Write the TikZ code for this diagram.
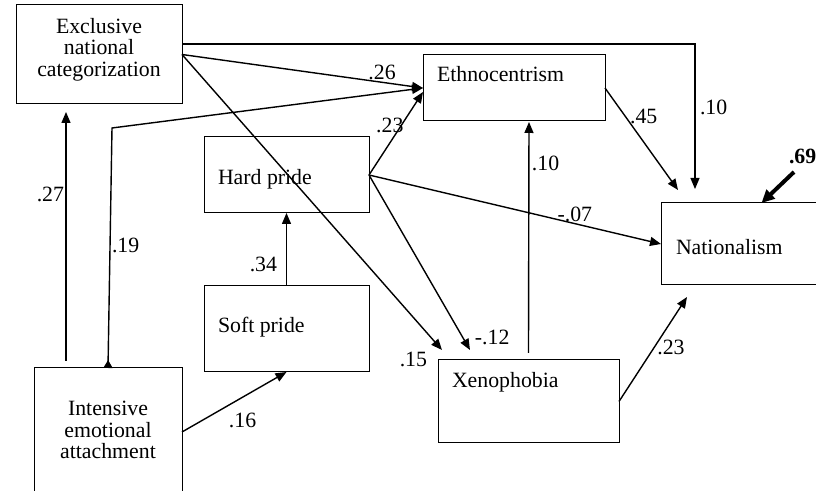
\documentclass[tikz,border=0pt]{standalone}
\usepackage{fontspec}
\setmainfont{Liberation Serif}
\usetikzlibrary{arrows.meta,positioning}

\begin{document}
\begin{tikzpicture}[x=0.5pt,y=-0.5pt]
  \tikzstyle{every node}=[inner sep=0pt, outer sep=0pt, font=\fontsize{10.9}{10.75}\selectfont]
  \tikzstyle{box}=[draw, rectangle, line width=0.5pt]
  \tikzstyle{lab}=[inner sep=1pt]

  \useasboundingbox (0,0) rectangle (816,491);

  % Boxes (position, size)
  \node[box, minimum width=83pt, minimum height=49.5pt] (Excl) at (99,54.5) {};
  \node[box, minimum width=91pt, minimum height=33pt] (Ethno) at (514,88) {};
  \node[box, minimum width=82.5pt, minimum height=38pt] (Hard) at (286.5,175) {};
  \node[box, minimum width=82.5pt, minimum height=43pt] (Soft) at (286.5,329) {};
  \node[box, minimum width=74pt, minimum height=66pt] (Intens) at (108,434) {};
  \node[box, minimum width=90.5pt, minimum height=41.5pt] (Xeno) at (528.5,401.5) {};
  \node[box, minimum width=85pt, minimum height=41pt] (Nat) at (746,244) {};

  % Box texts
  \node[align=center, anchor=north] (ExclT) at (99,18) {Exclusive\\national\\categorization};
  \node[anchor=base west] (EthnoT) at (437,81.5) {Ethnocentrism};
  \node[anchor=base west] (HardT) at (218,185) {Hard pride};
  \node[anchor=base west] (SoftT) at (218,332.5) {Soft pride};
  \node[align=center, anchor=north] (IntensT) at (108,401.5) {Intensive\\emotional\\attachment};
  \node[anchor=base west] (XenoT) at (452,387.5) {Xenophobia};
  \node[anchor=base west] (NatT) at (676,255) {Nationalism};

  \coordinate (tenEnd) at (695,189);
  \coordinate (bendNineteen) at (112,128);
  \coordinate (resNat) at (794,172);

  \begin{scope}[line width=0.7pt, -{Triangle[length=5.5pt,width=4.5pt]}]
    \draw[line width=0.55pt] ([yshift=5.25pt]Excl.east) -| node[lab, pos=0.717, anchor=west, xshift=1.5pt] {.10} (tenEnd);
    \draw (Excl.east) -- node[lab, pos=0.83, anchor=south] {.26} (Ethno.west);
    \draw[{Triangle[reversed,length=4pt,width=4.5pt]}-{Triangle[length=5.5pt,width=4.5pt]}]
      (Intens.north) -- node[lab, pos=0.51, anchor=west] {.19} (bendNineteen) -- (Ethno.west);
    \draw ([xshift=-21pt,yshift=3.5pt]Intens.north) -- node[lab, pos=0.667, anchor=east] {.27} ([xshift=-16.5pt,yshift=-4pt]Excl.south);
    \draw (Hard.east) -- node[lab, pos=0.6, anchor=east, xshift=2pt] {.23} ([yshift=-2pt]Ethno.west);
    \draw (Hard.east) -- node[lab, pos=0.705, anchor=south] {-.07} (Nat.west);
    \draw (Hard.east) -- node[lab, pos=0.93, anchor=west, xshift=5pt] {-.12} ([xshift=-29.25pt,yshift=5pt]Xeno.north);
    \draw (Excl.east) -- node[lab, pos=1, anchor=north east, xshift=-6.5pt, yshift=0pt] {.15} ([xshift=2pt,yshift=5pt]Xeno.north west);
    \draw (Soft.north) -- node[lab, pos=0.29, anchor=east, xshift=-3.75pt] {.34} (Hard.south);
    \draw ([yshift=1pt]Intens.east) -- node[lab, pos=0.58, anchor=north, yshift=-7pt] {.16} (Soft.south);
    \draw ([yshift=3.5pt]Xeno.north) -- node[lab, pos=0.82, anchor=west, xshift=0.5pt] {.10} ([xshift=7.5pt,yshift=-0.5pt]Ethno.south);
    \draw (Ethno.east) -- node[lab, pos=0.275, anchor=west, xshift=1.5pt] {.45} ([xshift=8.5pt,yshift=6.5pt]Nat.north west);
    \draw (Xeno.east) -- node[lab, pos=0.52, anchor=west, xshift=0.5pt] {.23} ([xshift=13pt,yshift=-6pt]Nat.south west);
  \end{scope}

  % residual
  \draw[line width=2pt, -{Triangle[length=6.5pt,width=6pt]}] (resNat) -- node[lab, pos=0, anchor=south west, xshift=-3.5pt, yshift=3pt, font=\fontsize{10.9}{10.75}\selectfont\bfseries] {.69} ([xshift=7.75pt]Nat.north);
\end{tikzpicture}
\end{document}
